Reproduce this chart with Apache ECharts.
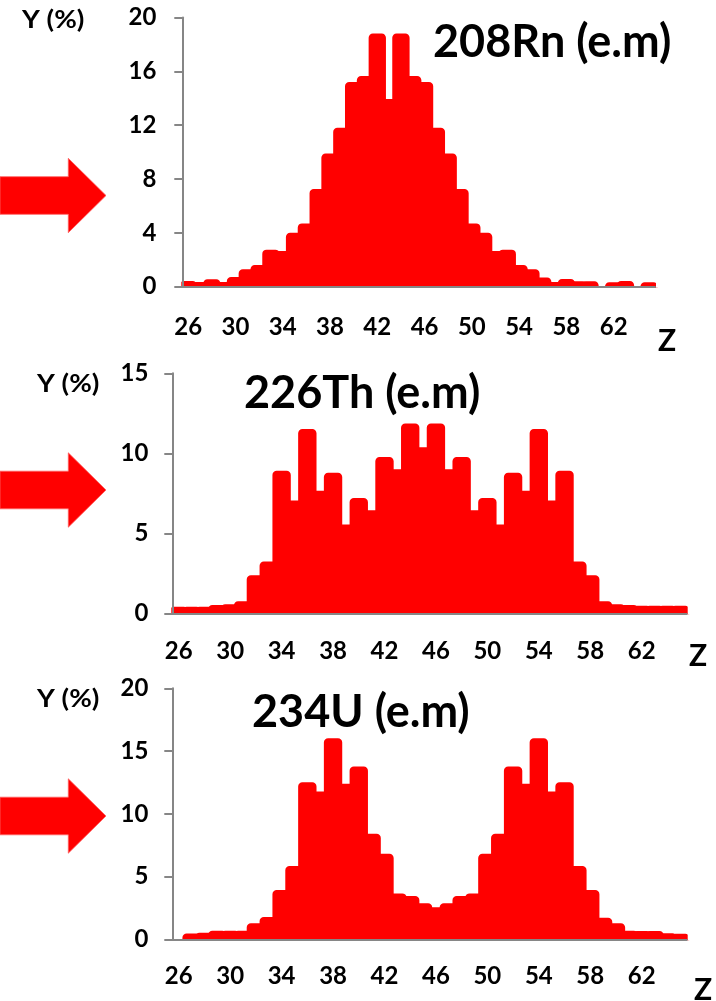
<!DOCTYPE html>
<html>
<head>
<meta charset="utf-8">
<script src="https://cdn.jsdelivr.net/npm/echarts@6/dist/echarts.min.js"></script>
<style>
  html, body { margin: 0; padding: 0; background: #ffffff; }
  #chart { width: 716px; height: 1001px; }
</style>
</head>
<body>
<div id="chart"></div>
<script>
// Fragment charge number Z (one category per value)
const zValues = ['26','27','28','29','30','31','32','33','34','35',
                 '36','37','38','39','40','41','42','43','44','45',
                 '46','47','48','49','50','51','52','53','54','55',
                 '56','57','58','59','60','61','62','63','64','65'];

// Yield Y (%) for each Z
const rn208 = [0.22, 0.15, 0.35, 0.15, 0.52, 1.1, 1.4, 2.55, 2.45, 3.8,
               4.5, 7.05, 9.7, 11.6, 15.0, 15.45, 18.6, 13.75, 18.6, 15.45,
               15.0, 11.6, 9.7, 7.05, 4.5, 3.8, 2.45, 2.55, 1.4, 1.1,
               0.48, 0.15, 0.37, 0.2, 0.2, null, 0.13, 0.22, null, 0.13];

const th226 = [0.24, 0.24, 0.24, 0.35, 0.4, 0.58, 2.2, 3.06, 8.73, 6.88,
               11.34, 7.48, 8.61, 5.38, 7.03, 6.27, 9.6, 8.83, 11.69, 10.21,
               11.69, 8.83, 9.6, 6.27, 7.03, 5.38, 8.61, 7.48, 11.34, 6.88,
               8.73, 3.06, 2.2, 0.58, 0.4, 0.35, 0.3, 0.3, 0.3, 0.3];

const u234 = [null, 0.25, 0.3, 0.47, 0.47, 0.47, 1.05, 1.55, 3.7, 5.63,
              12.3, 11.56, 15.8, 12.17, 13.54, 8.2, 6.6, 3.44, 3.23, 2.65,
              2.33, 2.65, 3.23, 3.44, 6.6, 8.2, 13.54, 12.17, 15.8, 11.56,
              12.3, 5.63, 3.7, 1.5, 1.06, 0.47, 0.45, 0.45, 0.26, 0.22];

const titles = ['208Rn (e.m)', '226Th (e.m)', '234U (e.m)'];
const yMaxes = [20, 15, 20];
const yIntervals = [4, 5, 5];

const RED = '#ff0000';
const AXIS_GRAY = '#868686';
const FONT = 'Lato';
const OUTLINE = 5.5;

// Layout of the three stacked panels
const panels = [
  { data: rn208, left: 182.3, top: 17.5, width: 472.7, height: 269.2,
    xMargin: 29, yMargin: 26, titleX: 433, titleY: 42.5,
    yNameX: 22, yNameY: 20.5, zX: 658, zY: 341, arrowY: 195.5 },
  { data: th226, left: 172.3, top: 373.3, width: 514.4, height: 240,
    xMargin: 26, yMargin: 24, titleX: 244, titleY: 393.5,
    yNameX: 37, yNameY: 384.5, zX: 689, zY: 656, arrowY: 490 },
  { data: u234, left: 172.3, top: 688.3, width: 514.4, height: 251,
    xMargin: 25, yMargin: 24, titleX: 252, titleY: 712.5,
    yNameX: 37, yNameY: 699.5, zX: 694, zY: 990, arrowY: 816 }
];

const labelStyle = { fontFamily: FONT, fontWeight: 'bold', fontSize: 24, color: '#000' };

// Column with a thick rounded outline centred on its edges
function renderColumn(params, api) {
  const v = api.value(1);
  if (v == null || isNaN(v)) return null;
  const idx = api.value(0);
  const topPt = api.coord([idx, v]);
  const basePt = api.coord([idx, 0]);
  const bw = api.size([1, 0])[0];
  return {
    type: 'rect',
    shape: { x: topPt[0] - bw / 2, y: topPt[1], width: bw,
             height: basePt[1] - topPt[1], r: [1.5, 1.5, 0, 0] },
    style: { fill: RED, stroke: RED, lineWidth: OUTLINE, lineJoin: 'round' }
  };
}

const grid = [], xAxis = [], yAxis = [], series = [], graphic = [];

panels.forEach((p, i) => {
  grid.push({ left: p.left, top: p.top, width: p.width, height: p.height });

  xAxis.push({
    type: 'category', gridIndex: i, data: zValues, boundaryGap: true, z: 10,
    axisLine: { lineStyle: { color: AXIS_GRAY, width: 2 } },
    axisTick: { interval: 3, length: 8, lineStyle: { color: AXIS_GRAY, width: 2 } },
    axisLabel: Object.assign({ interval: 3, margin: p.xMargin }, labelStyle),
    splitLine: { show: false }
  });

  yAxis.push({
    type: 'value', gridIndex: i, min: 0, max: yMaxes[i], interval: yIntervals[i], z: 10,
    axisLine: { show: true, lineStyle: { color: AXIS_GRAY, width: 2 } },
    axisTick: { show: true, length: 8, lineStyle: { color: AXIS_GRAY, width: 2 } },
    axisLabel: Object.assign({ margin: p.yMargin }, labelStyle),
    splitLine: { show: false }
  });

  series.push({
    type: 'custom', xAxisIndex: i, yAxisIndex: i, z: 2,
    data: p.data.map((v, k) => [k, v]),
    encode: { x: 0, y: 1 },
    renderItem: renderColumn,
    silent: true,
    animation: false
  });

  const base = p.top + p.height;
  const right = p.left + p.width;
  // white bands keep the thick outlines inside the plot frame
  graphic.push(
    { type: 'rect', z: 5, silent: true,
      shape: { x: p.left - 6, y: base + 1, width: p.width + 12, height: 4 },
      style: { fill: '#fff' } },
    { type: 'rect', z: 5, silent: true,
      shape: { x: p.left - 5, y: base - 12, width: 4, height: 17 },
      style: { fill: '#fff' } },
    { type: 'rect', z: 5, silent: true,
      shape: { x: right + 1, y: base - 12, width: 4, height: 13 },
      style: { fill: '#fff' } }
  );

  // panel title
  graphic.push({
    type: 'text', z: 20, x: p.titleX, y: p.titleY,
    style: { text: titles[i], font: 'bold 45px ' + FONT, fill: '#000',
             textAlign: 'left', textVerticalAlign: 'middle' }
  });
  // axis names
  graphic.push({
    type: 'text', z: 20, x: p.yNameX, y: p.yNameY, scaleX: 1.15,
    style: { text: 'Y (%)', font: 'bold 24px ' + FONT, fill: '#000',
             textAlign: 'left', textVerticalAlign: 'middle' }
  });
  graphic.push({
    type: 'text', z: 20, x: p.zX, y: p.zY,
    style: { text: 'Z', font: 'bold 30px ' + FONT, fill: '#000',
             textAlign: 'left', textVerticalAlign: 'middle' }
  });

  // block arrow pointing at the panel
  const c = p.arrowY;
  graphic.push({
    type: 'polygon', z: 20, silent: true,
    shape: { points: [[0, c - 18.8], [68.3, c - 18.8], [68.3, c - 37.2], [106, c],
                      [68.3, c + 37.2], [68.3, c + 18.8], [0, c + 18.8]] },
    style: { fill: RED, stroke: '#ff6060', lineWidth: 0.8 }
  });
});

const chart = echarts.init(document.getElementById('chart'), null, { renderer: 'canvas' });
chart.setOption({
  animation: false,
  backgroundColor: '#ffffff',
  grid, xAxis, yAxis, series, graphic
});
</script>
</body>
</html>
